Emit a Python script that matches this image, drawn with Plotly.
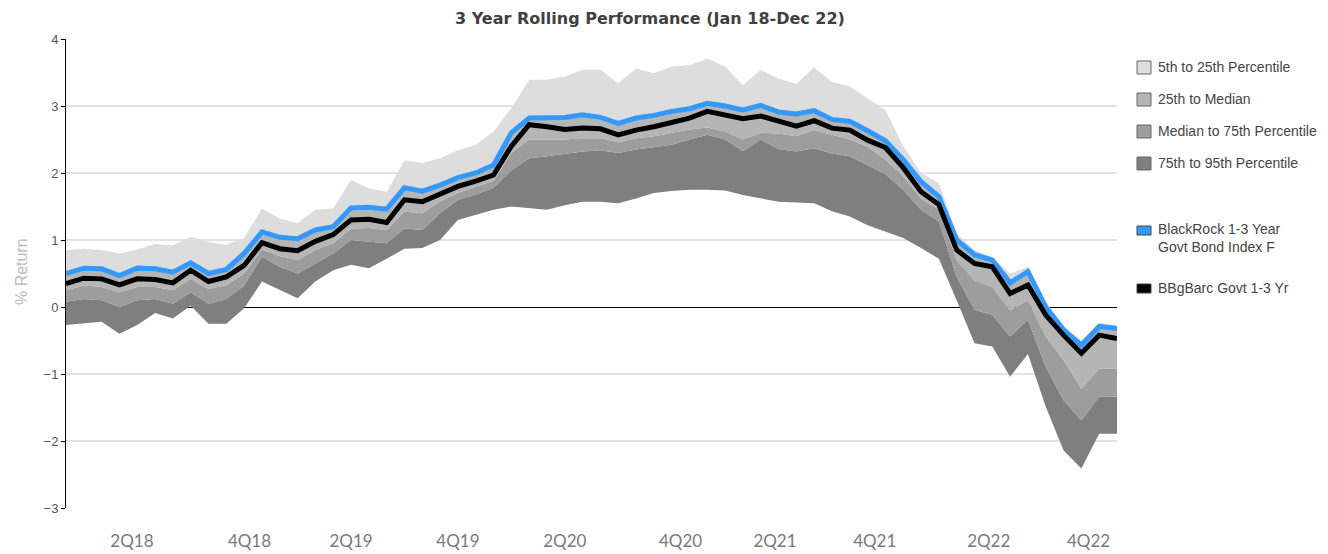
import plotly.graph_objects as go

# ---- data (monthly, Jan 2018 .. Dec 2022), % return ----
months = list(range(60))
p5 = [0.85, 0.87, 0.85, 0.80, 0.86, 0.94, 0.92, 1.05, 0.97, 0.93,
      1.03, 1.47, 1.32, 1.25, 1.45, 1.47, 1.90, 1.77, 1.72, 2.19,
      2.15, 2.22, 2.34, 2.42, 2.62, 2.97, 3.39, 3.39, 3.44, 3.54,
      3.54, 3.34, 3.56, 3.49, 3.59, 3.61, 3.71, 3.59, 3.31, 3.54,
      3.41, 3.33, 3.58, 3.36, 3.29, 3.12, 2.94, 2.40, 2.00, 1.85,
      1.10, 0.85, 0.75, 0.50, 0.60, 0.08, -0.28, -0.50, -0.24, -0.27]
p25 = [0.47, 0.55, 0.54, 0.45, 0.55, 0.55, 0.50, 0.64, 0.48, 0.54,
       0.77, 1.10, 1.01, 0.99, 1.12, 1.17, 1.45, 1.46, 1.43, 1.75,
       1.70, 1.79, 1.90, 1.97, 2.10, 2.57, 2.80, 2.80, 2.80, 2.84,
       2.80, 2.71, 2.79, 2.83, 2.89, 2.95, 3.06, 2.98, 2.92, 2.99,
       2.89, 2.86, 2.97, 2.78, 2.75, 2.61, 2.46, 2.18, 1.85, 1.63,
       0.98, 0.76, 0.68, 0.34, 0.51, -0.02, -0.36, -0.59, -0.31, -0.34]
median = [0.25, 0.32, 0.30, 0.22, 0.30, 0.30, 0.25, 0.42, 0.27, 0.33,
          0.50, 0.86, 0.76, 0.70, 0.85, 0.95, 1.17, 1.18, 1.15, 1.42,
          1.40, 1.58, 1.70, 1.80, 1.88, 2.30, 2.50, 2.50, 2.50, 2.52,
          2.52, 2.46, 2.52, 2.55, 2.60, 2.65, 2.68, 2.62, 2.50, 2.60,
          2.59, 2.55, 2.64, 2.57, 2.50, 2.39, 2.20, 1.95, 1.62, 1.45,
          0.70, 0.40, 0.30, -0.05, 0.10, -0.44, -0.79, -1.22, -0.92, -0.92]
p75 = [0.08, 0.12, 0.10, 0.00, 0.10, 0.12, 0.05, 0.22, 0.05, 0.12,
       0.32, 0.75, 0.60, 0.50, 0.65, 0.80, 1.00, 0.97, 0.95, 1.17,
       1.15, 1.40, 1.60, 1.68, 1.78, 2.04, 2.22, 2.25, 2.29, 2.32,
       2.34, 2.30, 2.35, 2.38, 2.42, 2.50, 2.57, 2.50, 2.33, 2.50,
       2.36, 2.32, 2.37, 2.29, 2.25, 2.12, 1.98, 1.75, 1.45, 1.28,
       0.45, -0.04, -0.12, -0.44, -0.19, -0.89, -1.39, -1.69, -1.34, -1.34]
p95 = [-0.27, -0.24, -0.22, -0.40, -0.27, -0.09, -0.17, 0.02, -0.25, -0.25,
       -0.02, 0.38, 0.25, 0.13, 0.38, 0.55, 0.63, 0.58, 0.72, 0.87,
       0.88, 1.00, 1.30, 1.38, 1.45, 1.50, 1.47, 1.45, 1.52, 1.57,
       1.57, 1.55, 1.62, 1.70, 1.73, 1.75, 1.75, 1.74, 1.67, 1.62,
       1.57, 1.56, 1.55, 1.43, 1.35, 1.22, 1.13, 1.03, 0.88, 0.72,
       0.10, -0.54, -0.59, -1.04, -0.70, -1.49, -2.14, -2.41, -1.89, -1.89]
blackrock = [0.50, 0.58, 0.57, 0.47, 0.58, 0.57, 0.52, 0.66, 0.50, 0.56,
             0.80, 1.12, 1.04, 1.02, 1.15, 1.20, 1.48, 1.49, 1.46, 1.78,
             1.73, 1.82, 1.93, 2.00, 2.12, 2.60, 2.82, 2.82, 2.83, 2.87,
             2.83, 2.74, 2.82, 2.86, 2.92, 2.96, 3.04, 3.00, 2.94, 3.01,
             2.91, 2.88, 2.93, 2.80, 2.77, 2.63, 2.48, 2.20, 1.87, 1.65,
             1.00, 0.78, 0.70, 0.36, 0.53, 0.00, -0.34, -0.57, -0.29, -0.32]
benchmark = [0.35, 0.43, 0.42, 0.33, 0.42, 0.41, 0.36, 0.55, 0.38, 0.45,
             0.62, 0.96, 0.87, 0.84, 0.98, 1.08, 1.30, 1.31, 1.26, 1.60,
             1.57, 1.69, 1.80, 1.88, 1.97, 2.40, 2.72, 2.69, 2.65, 2.67,
             2.66, 2.57, 2.64, 2.69, 2.76, 2.82, 2.92, 2.86, 2.81, 2.85,
             2.78, 2.70, 2.78, 2.67, 2.64, 2.49, 2.38, 2.08, 1.72, 1.53,
             0.85, 0.65, 0.60, 0.20, 0.33, -0.12, -0.42, -0.69, -0.42, -0.47]

tick_pos = [3.7, 10.3, 16.0, 22.0, 28.0, 34.5, 39.8, 45.4, 51.8, 57.4]
tick_labels = ["2Q18", "4Q18", "2Q19", "4Q19", "2Q20", "4Q20",
               "2Q21", "4Q21", "2Q22", "4Q22"]
y_ticks = [-3, -2, -1, 0, 1, 2, 3, 4]

band_names = ["5th to 25th Percentile", "25th to Median",
              "Median to 75th Percentile", "75th to 95th Percentile"]
band_colors = ["#dddddd", "#b5b5b5", "#9d9d9d", "#7f7f7f"]
line_names = ["BlackRock 1-3 Year<br>Govt Bond Index F", "BBgBarc Govt 1-3 Yr"]
line_colors = ["#3399ff", "#000000"]

# the page body has an 8px margin, so the figure is drawn 8px smaller and offset
OFF = 8
W, H = 1328 - OFF, 554 - OFF
L, R, T, B = 66 - OFF, 1117 - OFF, 39 - OFF, 508 - OFF

fig = go.Figure()
# stacked bands from bottom (95th) up to top (5th)
layers = [p95, p75, median, p25, p5]
fills = [None, band_colors[3], band_colors[2], band_colors[1], band_colors[0]]
for vals, fc in zip(layers, fills):
    fig.add_trace(go.Scatter(
        x=months, y=vals, mode="lines", line=dict(width=0, color=fc or "#7f7f7f"),
        fill="tonexty" if fc else None, fillcolor=fc, showlegend=False,
        hoverinfo="skip"))
fig.add_trace(go.Scatter(x=months, y=blackrock, mode="lines",
                         line=dict(color=line_colors[0], width=5), showlegend=False))
fig.add_trace(go.Scatter(x=months, y=benchmark, mode="lines",
                         line=dict(color=line_colors[1], width=5), showlegend=False))

font_main = "Liberation Sans, Arial, sans-serif"

def px_x(px):
    return (px - OFF - L) / (R - L)

def px_y(py):
    return (B - (py - OFF)) / (B - T)

fig.update_layout(
    width=W, height=H, autosize=False,
    margin=dict(l=L, r=W - R, t=T, b=H - B, pad=0, autoexpand=False),
    paper_bgcolor="white", plot_bgcolor="white",
    title=dict(text="<b>3 Year Rolling Performance (Jan 18-Dec 22)</b>",
               x=(650 - OFF) / W, xanchor="center", y=1 - (18 - OFF) / H, yanchor="middle",
               font=dict(family="DejaVu Sans, sans-serif", size=16, color="#404040")),
    showlegend=False,
    xaxis=dict(range=[0, 59], tickvals=tick_pos, ticktext=tick_labels,
               showgrid=False, zeroline=False, ticks="", showline=False,
               automargin=False, ticklabelstandoff=21,
               tickfont=dict(family="Lato, Open Sans, sans-serif", size=17, color="#7a7a7a")),
    yaxis=dict(range=[-3, 4], tickvals=y_ticks, showgrid=True,
               gridcolor="#e2e2e2", gridwidth=2, zeroline=True,
               zerolinecolor="#000000", zerolinewidth=1,
               showline=True, linecolor="#000000", linewidth=1,
               ticks="outside", ticklen=4, tickcolor="#000000",
               automargin=False,
               tickfont=dict(family=font_main, size=13, color="#555555")),
)

# y-axis title
fig.add_annotation(text="% Return", xref="paper", yref="paper", x=px_x(21), y=px_y(272),
                   xanchor="center", yanchor="middle", showarrow=False, textangle=-90,
                   font=dict(family=font_main, size=16, color="#bbbbbb"))

# manual legend (right side)
legend_y = [67, 99, 131, 163]
for name, col, yy in zip(band_names, band_colors, legend_y):
    fig.add_shape(type="rect", xref="paper", yref="paper",
                  x0=px_x(1137), x1=px_x(1151), y0=px_y(yy + 7), y1=px_y(yy - 6),
                  fillcolor=col, line=dict(color="#666666", width=1))
    fig.add_annotation(text=name, xref="paper", yref="paper", x=px_x(1156), y=px_y(yy),
                       xanchor="left", yanchor="middle", showarrow=False,
                       font=dict(family=font_main, size=14, color="#444444"))

line_leg_y = [234, 288]
for name, col, yy in zip(line_names, line_colors, line_leg_y):
    two = "<br>" in name
    sy = yy - 4 if two else yy
    fig.add_shape(type="rect", xref="paper", yref="paper",
                  x0=px_x(1137), x1=px_x(1151), y0=px_y(sy + 5), y1=px_y(sy - 4),
                  fillcolor=col, line=dict(color="#444444", width=1))
    fig.add_annotation(text=name, xref="paper", yref="paper", x=px_x(1156),
                       y=px_y(yy + 4 if two else yy),
                       xanchor="left", yanchor="middle", showarrow=False, align="left",
                       font=dict(family=font_main, size=14, color="#444444"))

fig.write_html("out.html")
